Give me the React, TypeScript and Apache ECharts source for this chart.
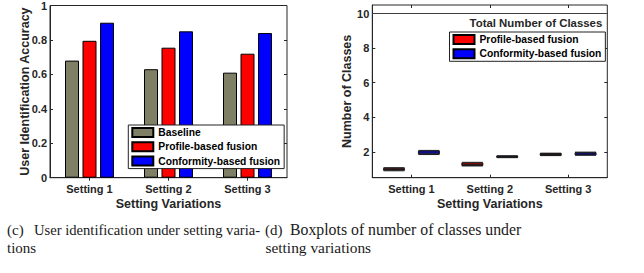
import React, { useEffect, useRef } from "react";
import * as echarts from "echarts";

const settings = ["Setting 1", "Setting 2", "Setting 3"];
const seriesNames = ["Baseline", "Profile-based fusion", "Conformity-based fusion"];
const baselineAcc = [0.68, 0.63, 0.61];
const profileAcc = [0.795, 0.755, 0.72];
const conformityAcc = [0.9, 0.85, 0.84];
// boxplot rows: [min, Q1, median, Q3, max]
const profileClasses = [
  [0.9, 0.94, 0.97, 1.04, 1.08],
  [1.18, 1.21, 1.27, 1.35, 1.39],
  [1.78, 1.8, 1.84, 1.9, 1.92],
];
const conformityClasses = [
  [1.84, 1.88, 1.93, 2.04, 2.08],
  [1.66, 1.68, 1.72, 1.75, 1.77],
  [1.8, 1.82, 1.88, 1.95, 1.98],
];
const classTicks = [2, 4, 6, 8, 10];
const totalClasses = 10;
const captionC = ["(c)", "User identification under setting varia-", "tions"];
const captionD = ["(d)", "Boxplots of number of classes under", "setting variations"];

const colors = ["#7f7f66", "#ff0000", "#0000ff"];
const FONT = "Liberation Sans, Arial, Helvetica, sans-serif";
const SERIF = "Liberation Serif, Times New Roman, serif";
const INK = "#262626";

export default function App() {
  const ref = useRef<HTMLDivElement>(null);
  useEffect(() => {
    if (!ref.current) return;
    const chart = echarts.init(ref.current, undefined, { renderer: "svg" });
    const labelStyle = { fontFamily: FONT, fontSize: 11, fontWeight: "bold", color: INK };
    const nameStyle = { fontFamily: FONT, fontSize: 12.5, fontWeight: "bold", color: INK };
    const tick = { show: true, inside: true, length: 3, lineStyle: { color: INK, width: 1 } };
    const line = { show: true, lineStyle: { color: INK, width: 1 } };
    const gridStyle = { show: true, borderColor: INK, borderWidth: 1, backgroundColor: "#fff" };
    const legendBase = {
      orient: "vertical",
      icon: "rect",
      itemWidth: 21,
      itemHeight: 9,
      itemGap: 3.3,
      selectedMode: false,
      borderColor: "#222",
      borderWidth: 1,
      backgroundColor: "#fff",
      textStyle: { fontFamily: FONT, fontSize: 10.3, fontWeight: "bold", color: "#000", lineHeight: 10 },
    };
    const captionText = (x: number, y: number, text: string, size: number) => ({
      type: "text",
      x,
      y,
      style: { text, fontFamily: SERIF, fontSize: size, fill: "#1a1a1a", verticalAlign: "middle", align: "left" },
    });
    const option: any = {
      animation: false,
      backgroundColor: "#fff",
      grid: [
        { left: 50, top: 5, width: 237, height: 172.7, ...gridStyle },
        { left: 372.3, top: 5, width: 235, height: 172.7, ...gridStyle },
      ],
      xAxis: [
        {
          gridIndex: 0, type: "category", data: settings, position: "bottom",
          axisLine: line, axisTick: { ...tick, alignWithLabel: true },
          axisLabel: { ...labelStyle, margin: 6 },
          name: "Setting Variations", nameLocation: "middle", nameGap: 20, nameTextStyle: nameStyle,
          nameMoveOverlap: false,
        },
        {
          gridIndex: 0, type: "category", data: settings, position: "top",
          axisLine: { show: false }, axisTick: { ...tick, alignWithLabel: true }, axisLabel: { show: false },
        },
        {
          gridIndex: 1, type: "category", data: settings, position: "bottom",
          axisLine: line, axisTick: { ...tick, alignWithLabel: true },
          axisLabel: { ...labelStyle, margin: 6 },
          name: "Setting Variations", nameLocation: "middle", nameGap: 20, nameTextStyle: nameStyle,
          nameMoveOverlap: false,
        },
        {
          gridIndex: 1, type: "category", data: settings, position: "top",
          axisLine: { show: false }, axisTick: { ...tick, alignWithLabel: true }, axisLabel: { show: false },
        },
      ],
      yAxis: [
        {
          gridIndex: 0, type: "value", min: 0, max: 1, interval: 0.2, position: "left",
          axisLine: line, axisTick: tick, splitLine: { show: false },
          axisLabel: { ...labelStyle, margin: 3 },
          name: "User Identification Accuracy", nameLocation: "middle", nameGap: 19, nameRotate: 90,
          nameTextStyle: nameStyle, nameMoveOverlap: false,
        },
        {
          gridIndex: 0, type: "value", min: 0, max: 1, interval: 0.2, position: "right",
          axisLine: { show: false }, axisTick: tick, splitLine: { show: false }, axisLabel: { show: false },
        },
        {
          gridIndex: 1, type: "value", min: 0.5, max: 10.5, position: "left",
          axisLine: line, axisTick: { ...tick, customValues: classTicks }, splitLine: { show: false },
          axisLabel: { ...labelStyle, margin: 3, customValues: classTicks },
          name: "Number of Classes", nameLocation: "middle", nameGap: 19, nameRotate: 90,
          nameTextStyle: nameStyle, nameMoveOverlap: false,
        },
        {
          gridIndex: 1, type: "value", min: 0.5, max: 10.5, position: "right",
          axisLine: { show: false }, axisTick: { ...tick, customValues: classTicks }, splitLine: { show: false },
          axisLabel: { show: false },
        },
      ],
      legend: [
        { ...legendBase, data: seriesNames, left: 128.3, top: 125, padding: [2, 4, 2, 3] },
        { ...legendBase, data: seriesNames.slice(1), left: 449.5, top: 32, padding: [2, 4, 2, 3] },
      ],
      series: [
        ...[baselineAcc, profileAcc, conformityAcc].map((d, i) => ({
          type: "bar",
          name: seriesNames[i],
          xAxisIndex: 0,
          yAxisIndex: 0,
          data: d,
          barWidth: 14,
          barGap: "25%",
          itemStyle: { color: colors[i], borderColor: "#000", borderWidth: 1 },
        })),
        {
          type: "boxplot",
          name: seriesNames[1],
          xAxisIndex: 2,
          yAxisIndex: 2,
          data: profileClasses,
          boxWidth: [21, 21],
          itemStyle: { color: colors[1], borderColor: "#1a1a1a", borderWidth: 1 },
          markLine: {
            silent: true,
            symbol: ["none", "none"],
            lineStyle: { color: "#404040", width: 1, type: "solid" },
            label: {
              show: true,
              position: "insideEndBottom",
              formatter: "Total Number of Classes",
              fontFamily: FONT,
              fontSize: 11.4,
              fontWeight: "bold",
              color: INK,
              distance: [5, 4],
            },
            data: [{ yAxis: totalClasses }],
          },
        },
        {
          type: "boxplot",
          name: seriesNames[2],
          xAxisIndex: 2,
          yAxisIndex: 2,
          data: conformityClasses,
          boxWidth: [21, 21],
          itemStyle: { color: colors[2], borderColor: "#1a1a1a", borderWidth: 1 },
        },
      ],
      graphic: [
        captionText(7, 229.5, captionC[0], 15),
        captionText(34, 229.5, captionC[1], 14.6),
        captionText(7, 247.5, captionC[2], 15),
        captionText(265, 229.5, captionD[0], 15),
        captionText(290, 229.5, captionD[1], 15.8),
        captionText(265.5, 247.5, captionD[2], 15.4),
      ],
    };
    chart.setOption(option);
    return () => chart.dispose();
  }, []);
  return (
    <div
      ref={ref}
      style={{ position: "fixed", left: 0, top: 0, width: 644, height: 273, background: "#fff" }}
    />
  );
}
